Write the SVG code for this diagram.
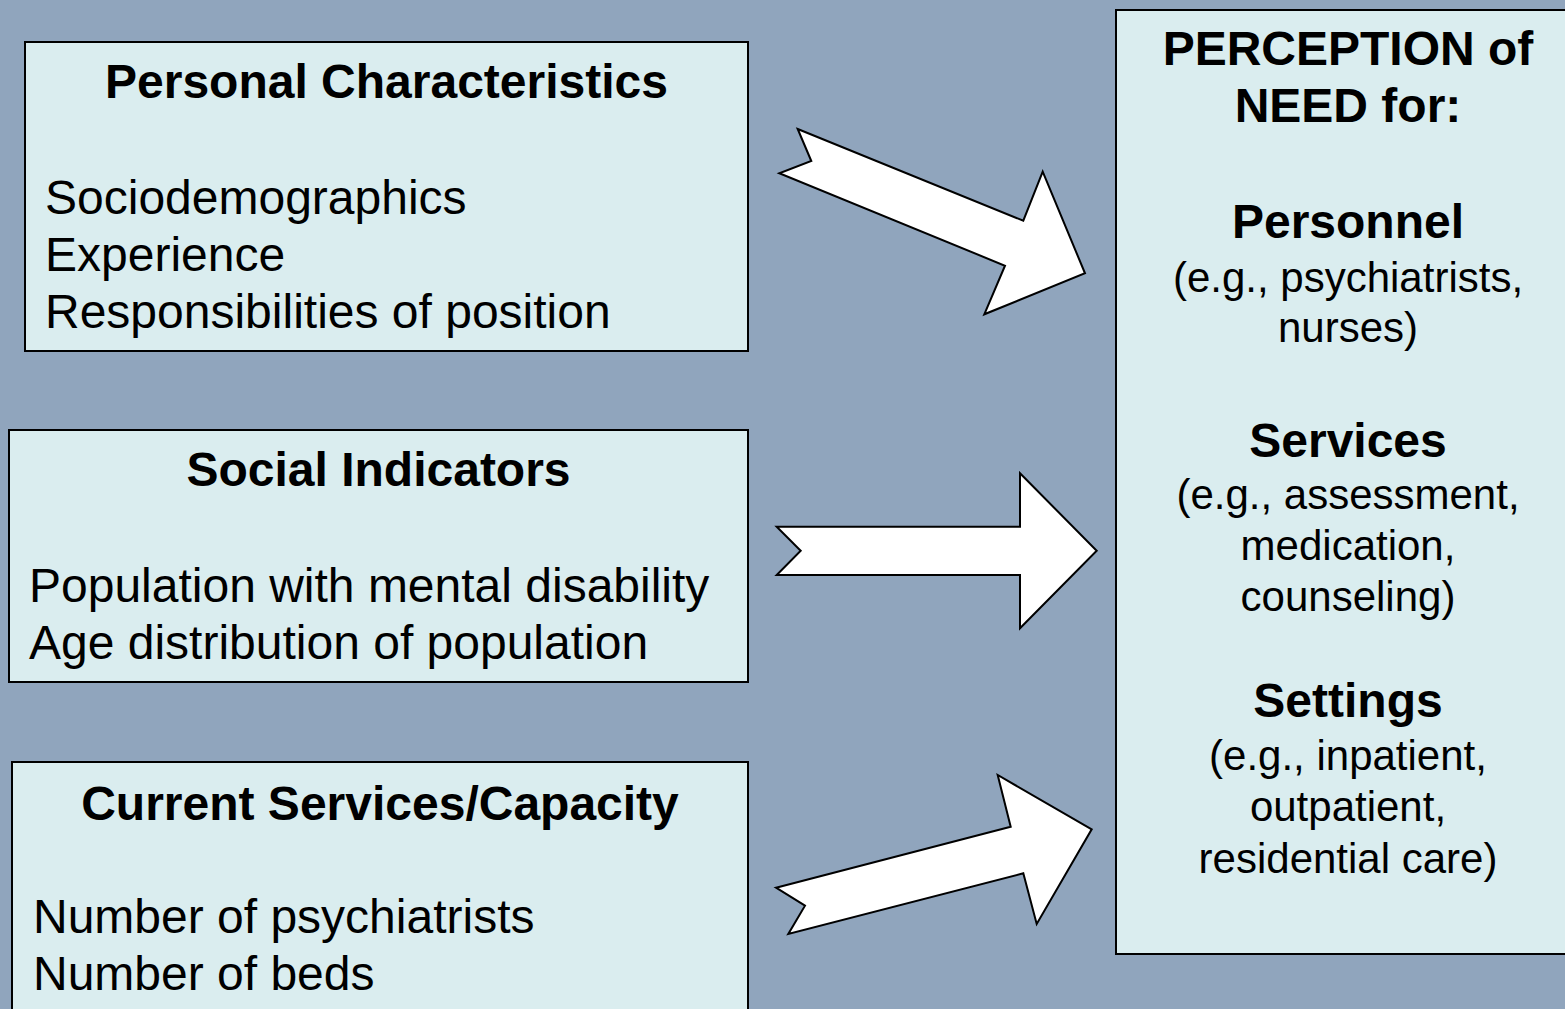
<svg xmlns="http://www.w3.org/2000/svg" width="1565" height="1009" viewBox="0 0 1565 1009">
<style>
.box{fill:#DAEDEF;stroke:#000;stroke-width:2}
.arrow{fill:#FFFFFF;stroke:#000;stroke-width:2;stroke-linejoin:miter}
text{font-family:"Liberation Sans",Arial,sans-serif;fill:#000}
.h{font-size:48px;font-weight:bold;text-anchor:middle}
.b{font-size:48px}
.s{font-size:42px;text-anchor:middle}
</style>
<rect x="0" y="0" width="1565" height="1009" fill="#90A5BD"/>
<g id="connectors">
<polygon class="arrow" points="797.7,129 1023.3,220.7 1042.7,171.7 1085,273.3 984.3,314.3 1005,265.7 779.3,173.3 811.3,161"/>
<polygon class="arrow" points="776.7,526.7 1020,526.7 1020,473.3 1096.7,550.7 1020,628.3 1020,575 776.7,575 800.7,550.7"/>
<polygon class="arrow" points="776,887.7 1010.7,826.7 997.7,775 1091.7,829.3 1036.7,924 1023.3,873.3 788.3,934 805,905.7"/>
</g>
<g id="personal">
<rect class="box" x="25" y="42" width="723" height="309"/>
<text class="h" x="386.5" y="98">Personal Characteristics</text>
<text class="b" x="45" y="214">Sociodemographics</text>
<text class="b" x="45" y="271">Experience</text>
<text class="b" x="45" y="328">Responsibilities of position</text>
</g>
<g id="social">
<rect class="box" x="9" y="430" width="739" height="252"/>
<text class="h" x="378.5" y="486">Social Indicators</text>
<text class="b" x="29" y="602">Population with mental disability</text>
<text class="b" x="29" y="659">Age distribution of population</text>
</g>
<g id="current">
<rect class="box" x="12" y="762" width="736" height="260"/>
<text class="h" x="380" y="820">Current Services/Capacity</text>
<text class="b" x="33" y="933">Number of psychiatrists</text>
<text class="b" x="33" y="990">Number of beds</text>
</g>
<g id="perception">
<rect class="box" x="1116" y="10" width="464" height="944"/>
<text class="h" x="1348" y="65">PERCEPTION of</text>
<text class="h" x="1348" y="122">NEED for:</text>
<text class="h" x="1348" y="238">Personnel</text>
<text class="s" x="1348" y="292">(e.g., psychiatrists,</text>
<text class="s" x="1348" y="342">nurses)</text>
<text class="h" x="1348" y="457">Services</text>
<text class="s" x="1348" y="509">(e.g., assessment,</text>
<text class="s" x="1348" y="560">medication,</text>
<text class="s" x="1348" y="611">counseling)</text>
<text class="h" x="1348" y="717">Settings</text>
<text class="s" x="1348" y="770">(e.g., inpatient,</text>
<text class="s" x="1348" y="821">outpatient,</text>
<text class="s" x="1348" y="873">residential care)</text>
</g>
</svg>
